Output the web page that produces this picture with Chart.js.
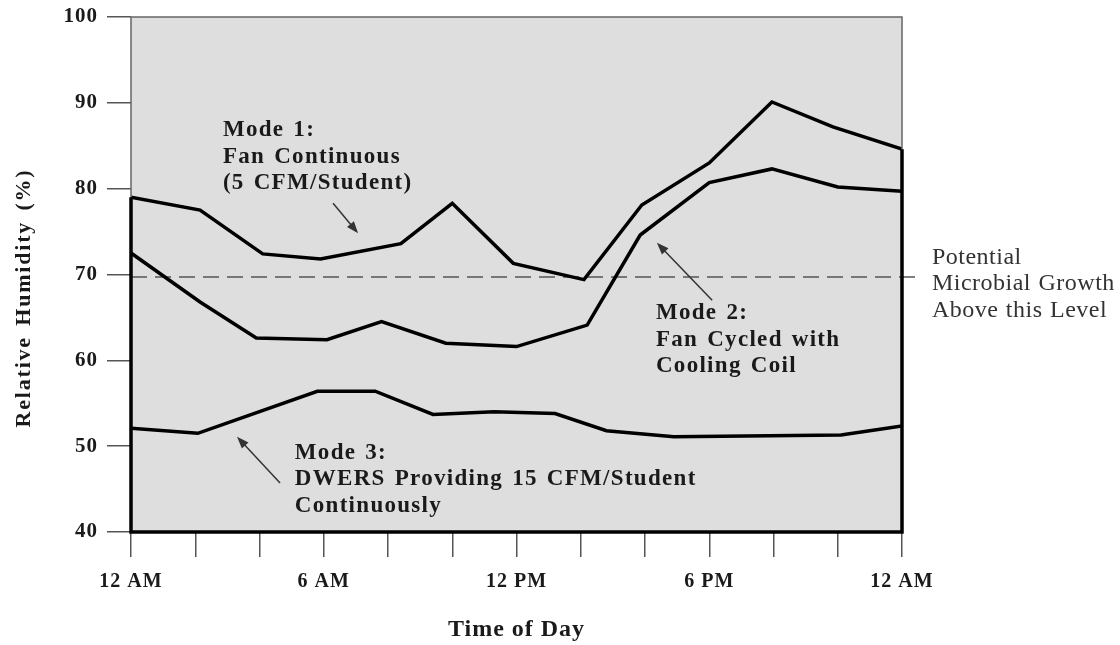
<!DOCTYPE html>
<html>
<head>
<meta charset="utf-8">
<script src="https://cdn.jsdelivr.net/npm/chart.js@4.4.0/dist/chart.umd.min.js"></script>
<style>
  html, body { margin: 0; padding: 0; background: #fff; }
  #wrap { width: 1120px; height: 645px; }
</style>
</head>
<body>
<div id="wrap"><canvas id="grafica" width="1120" height="645"></canvas></div>
<script>
// Datos (hora del día, humedad relativa %)
const mode1Hours = [0, 2.15, 4.1, 5.9, 8.4, 10.0, 11.9, 14.1, 15.9, 18.0, 19.95, 21.85, 24];
const mode1RH    = [79.0, 77.5, 72.4, 71.8, 73.6, 78.3, 71.3, 69.4, 78.1, 83.0, 90.1, 87.2, 84.6];

const mode2Hours = [0, 2.15, 3.9, 6.1, 7.8, 9.8, 12.0, 14.2, 15.85, 18.0, 19.95, 22.0, 24];
const mode2RH    = [72.5, 66.8, 62.6, 62.4, 64.5, 62.0, 61.6, 64.1, 74.6, 80.7, 82.3, 80.2, 79.7];

const mode3Hours = [0, 2.08, 5.8, 7.6, 9.4, 11.3, 13.2, 14.8, 16.9, 22.1, 24];
const mode3RH    = [52.1, 51.5, 56.4, 56.4, 53.7, 54.0, 53.8, 51.8, 51.1, 51.3, 52.35];

const growthLimit = 69.7;
const tickLabels = ["12 AM", "6 AM", "12 PM", "6 PM", "12 AM"];

const SERIF = '"Liberation Serif", "Times New Roman", serif';

const toPoints = (hrs, vals) => hrs.map((h, i) => ({ x: h, y: vals[i] }));

// --- Notas del gráfico (en unidades de datos) ---
const notas = [
  { x: 2.86, y: 86.8, bold: true, lines: ["Mode 1:", "Fan Continuous", "(5 CFM/Student)"] },
  { x: 16.34, y: 65.5, bold: true, lines: ["Mode 2:", "Fan Cycled with", "Cooling Coil"] },
  { x: 5.1, y: 49.2, bold: true, lines: ["Mode 3:", "DWERS Providing 15 CFM/Student", "Continuously"] },
  { x: 24.93, y: 72.0, bold: false, lines: ["Potential", "Microbial Growth", "Above this Level"] }
];
const flechas = [
  { from: [6.29, 78.3], to: [7.07, 74.8] },
  { from: [18.09, 67.0], to: [16.37, 73.7] },
  { from: [4.64, 45.7], to: [3.30, 51.1] }
];

function flecha(ctx, x1, y1, x2, y2) {
  const ang = Math.atan2(y2 - y1, x2 - x1);
  const L = 12, W = 4.5;
  ctx.beginPath();
  ctx.moveTo(x1, y1);
  ctx.lineTo(x2 - Math.cos(ang) * L * 0.8, y2 - Math.sin(ang) * L * 0.8);
  ctx.stroke();
  ctx.beginPath();
  ctx.moveTo(x2, y2);
  ctx.lineTo(x2 - Math.cos(ang) * L + Math.sin(ang) * W, y2 - Math.sin(ang) * L - Math.cos(ang) * W);
  ctx.lineTo(x2 - Math.cos(ang) * L - Math.sin(ang) * W, y2 - Math.sin(ang) * L + Math.cos(ang) * W);
  ctx.closePath();
  ctx.fill();
}

const marcoPlugin = {
  id: "marco",
  beforeDraw(chart) {
    const { ctx, chartArea: a } = chart;
    ctx.letterSpacing = "1px";
    ctx.save();
    ctx.fillStyle = "#dedede";
    ctx.fillRect(a.left, a.top, a.right - a.left, a.bottom - a.top);
    ctx.restore();
  },
  beforeDatasetsDraw(chart) {
    const { ctx, chartArea: a, scales } = chart;
    const y = scales.y.getPixelForValue(growthLimit);
    ctx.save();
    ctx.strokeStyle = "#555";
    ctx.lineWidth = 1.5;
    ctx.setLineDash([16, 8]);
    ctx.beginPath();
    ctx.moveTo(a.left, y);
    ctx.lineTo(a.right + 20, y);
    ctx.stroke();
    ctx.restore();
  },
  afterDatasetsDraw(chart) {
    const { ctx, chartArea: a, scales } = chart;
    const sx = scales.x, sy = scales.y;
    ctx.save();
    // marco fino
    ctx.strokeStyle = "#666";
    ctx.lineWidth = 1.5;
    ctx.strokeRect(a.left, a.top, a.right - a.left, a.bottom - a.top);
    // marco grueso bajo la curva del modo 1
    ctx.strokeStyle = "#000";
    ctx.lineWidth = 3.5;
    ctx.lineJoin = "miter";
    ctx.beginPath();
    ctx.moveTo(a.left, sy.getPixelForValue(mode1RH[0]));
    ctx.lineTo(a.left, a.bottom);
    ctx.lineTo(a.right, a.bottom);
    ctx.lineTo(a.right, sy.getPixelForValue(mode1RH[mode1RH.length - 1]));
    ctx.stroke();

    // flechas
    ctx.strokeStyle = "#333";
    ctx.fillStyle = "#333";
    ctx.lineWidth = 1.5;
    flechas.forEach(f => {
      flecha(ctx,
        sx.getPixelForValue(f.from[0]), sy.getPixelForValue(f.from[1]),
        sx.getPixelForValue(f.to[0]), sy.getPixelForValue(f.to[1]));
    });

    // textos
    ctx.textAlign = "left";
    ctx.textBaseline = "middle";
    notas.forEach(n => {
      const x = sx.getPixelForValue(n.x);
      const y0 = sy.getPixelForValue(n.y);
      if (n.bold) {
        ctx.font = "bold 23px " + SERIF;
        ctx.fillStyle = "#1a1a1a";
        ctx.letterSpacing = "1.3px";
        ctx.wordSpacing = "2px";
      } else {
        ctx.font = "24px " + SERIF;
        ctx.fillStyle = "#333";
        ctx.letterSpacing = "0.5px";
        ctx.wordSpacing = "1px";
      }
      n.lines.forEach((t, i) => ctx.fillText(t, x, y0 + i * 26.5));
    });

    // título del eje Y
    ctx.font = "bold 22px " + SERIF;
    ctx.fillStyle = "#1a1a1a";
    ctx.letterSpacing = "1.8px";
    ctx.wordSpacing = "3px";
    ctx.textAlign = "center";
    ctx.translate(24, 298);
    ctx.rotate(-Math.PI / 2);
    ctx.fillText("Relative Humidity (%)", 0, 0);
    ctx.restore();
  }
};

const lineaNegra = {
  borderColor: "#000",
  borderWidth: 3.5,
  pointRadius: 0,
  tension: 0,
  fill: false,
  borderJoinStyle: "miter"
};

new Chart(document.getElementById("grafica").getContext("2d"), {
  type: "line",
  data: {
    datasets: [
      { label: "Mode 1", data: toPoints(mode1Hours, mode1RH), ...lineaNegra },
      { label: "Mode 2", data: toPoints(mode2Hours, mode2RH), ...lineaNegra },
      { label: "Mode 3", data: toPoints(mode3Hours, mode3RH), ...lineaNegra }
    ]
  },
  options: {
    responsive: false,
    animation: false,
    layout: { padding: { top: 17, right: 218, left: 0, bottom: 0 } },
    plugins: {
      legend: { display: false },
      tooltip: { enabled: false }
    },
    scales: {
      x: {
        type: "linear",
        min: 0,
        max: 24,
        afterFit: s => { s.height = 113; s.paddingLeft = 0; s.paddingRight = 0; },
        border: { display: false },
        grid: { drawOnChartArea: false, tickLength: 25, color: "#555", lineWidth: 1.5 },
        ticks: {
          stepSize: 2,
          padding: 13,
          maxRotation: 0,
          autoSkip: false,
          color: "#1a1a1a",
          font: { family: SERIF, size: 20, weight: "bold" },
          callback: v => (v % 6 === 0 ? tickLabels[v / 6] : "")
        },
        title: {
          display: true,
          text: "Time of Day",
          color: "#1a1a1a",
          font: { family: SERIF, size: 24, weight: "bold" },
          padding: { top: 0, bottom: 1 }
        }
      },
      y: {
        min: 40,
        max: 100,
        afterFit: s => { s.width = 131; s.paddingTop = 0; s.paddingBottom = 0; },
        border: { display: false },
        grid: { drawOnChartArea: false, tickLength: 24, color: "#555", lineWidth: 1.5 },
        ticks: {
          stepSize: 10,
          padding: 9,
          color: "#1a1a1a",
          font: { family: SERIF, size: 21, weight: "bold" }
        }
      }
    }
  },
  plugins: [marcoPlugin]
});
</script>
</body>
</html>
